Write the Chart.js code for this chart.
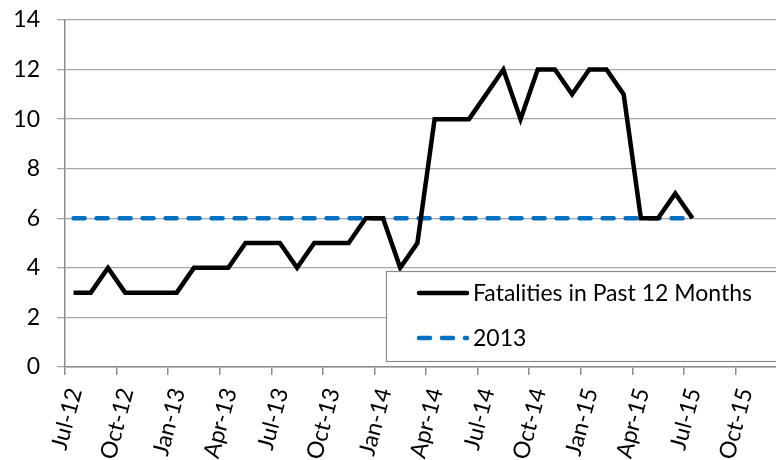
<!DOCTYPE html>
<html>
<head>
<meta charset="utf-8">
<script src="https://cdn.jsdelivr.net/npm/chart.js@4/dist/chart.umd.min.js"></script>
<style>
  html, body { margin: 0; padding: 0; background: #fff; overflow: hidden; }
  #wrap { position: absolute; left: 0; top: 0; width: 800px; height: 460px; }
</style>
</head>
<body>
<div id="wrap"><canvas id="c" width="800" height="460"></canvas></div>
<script>
// Months covered by the data (monthly, Jul-12 .. Jul-15)
const months = ["Jul-12","Aug-12","Sep-12","Oct-12","Nov-12","Dec-12","Jan-13","Feb-13","Mar-13","Apr-13","May-13","Jun-13",
  "Jul-13","Aug-13","Sep-13","Oct-13","Nov-13","Dec-13","Jan-14","Feb-14","Mar-14","Apr-14","May-14","Jun-14",
  "Jul-14","Aug-14","Sep-14","Oct-14","Nov-14","Dec-14","Jan-15","Feb-15","Mar-15","Apr-15","May-15","Jun-15","Jul-15"];
// Fatalities in Past 12 Months
const fatalities = [3,3,4,3,3,3,3,4,4,4,5,5,5,4,5,5,5,6,6,4,5,10,10,10,11,12,10,12,12,11,12,12,11,6,6,7,6];
// 2013 reference level
const level2013 = [6,6,6,6,6,6,6,6,6,6,6,6,6,6,6,6,6,6,6,6,6,6,6,6,6,6,6,6,6,6,6,6,6,6,6,6,6];
// Axis tick labels (every 3 months from Jul-12)
const tickLabels = ["Jul-12","Oct-12","Jan-13","Apr-13","Jul-13","Oct-13","Jan-14","Apr-14","Jul-14","Oct-14","Jan-15","Apr-15","Jul-15","Oct-15"];
const yTicks = [0,2,4,6,8,10,12,14];
const seriesNames = ["Fatalities in Past 12 Months", "2013"];

const FONT = "Lato, 'Liberation Sans', sans-serif";

const toPoints = arr => arr.map((v, i) => ({ x: i + 0.5, y: v }));

const legendPlugin = {
  id: 'boxLegend',
  afterDraw(chart) {
    const ctx = chart.ctx;
    const x0 = 386, y0 = 271, x1 = 800, y1 = 361;
    ctx.save();
    ctx.fillStyle = '#ffffff';
    ctx.fillRect(x0, y0, x1 - x0, y1 - y0);
    ctx.strokeStyle = '#8c8c8c';
    ctx.lineWidth = 1.2;
    ctx.strokeRect(x0 + 0.5, y0 + 0.5, x1 - x0, y1 - y0);
    const rows = [293, 338];
    chart.data.datasets.forEach((ds, i) => {
      const y = rows[i];
      ctx.beginPath();
      ctx.strokeStyle = ds.borderColor;
      ctx.lineWidth = ds.borderWidth;
      ctx.lineCap = 'round';
      ctx.setLineDash(ds.legendDash || []);
      ctx.moveTo(419, y);
      ctx.lineTo(467, y);
      ctx.stroke();
      ctx.setLineDash([]);
      ctx.fillStyle = '#000';
      ctx.font = '23px ' + FONT;
      ctx.textBaseline = 'middle';
      ctx.textAlign = 'left';
      ctx.fillText(ds.label, 473, y + 1);
    });
    ctx.restore();
  }
};

new Chart(document.getElementById('c'), {
  type: 'line',
  data: {
    datasets: [
      {
        label: seriesNames[0],
        data: toPoints(fatalities),
        borderColor: '#000000',
        borderWidth: 4.5,
        pointRadius: 0,
        tension: 0,
        borderJoinStyle: 'miter',
        order: 1
      },
      {
        label: seriesNames[1],
        data: toPoints(level2013),
        borderColor: '#0070C0',
        borderWidth: 4.5,
        borderDash: [11, 12],
        borderCapStyle: 'round',
        legendDash: [11, 12],
        pointRadius: 0,
        tension: 0,
        order: 2
      }
    ]
  },
  options: {
    responsive: false,
    animation: false,
    devicePixelRatio: 1,
    layout: { padding: { top: 20, right: 13, left: 0, bottom: 0 } },
    plugins: { legend: { display: false }, tooltip: { enabled: false }, title: { display: false } },
    scales: {
      x: {
        type: 'linear',
        min: 0,
        max: 42,
        afterBuildTicks(scale) {
          const t = [];
          for (let v = 0; v <= 42; v += 3) t.push({ value: v });
          scale.ticks = t;
        },
        afterFit(scale) {
          scale.height = 93;
          scale.paddingLeft = 0; scale.paddingRight = 0;
          scale.paddingTop = 0; scale.paddingBottom = 0;
        },
        ticks: {
          autoSkip: false,
          minRotation: 75,
          maxRotation: 75,
          padding: 10,
          labelOffset: 10,
          color: '#000',
          font: { family: FONT, size: 23 },
          callback: (v) => tickLabels[Math.round(v / 3)] || ''
        },
        grid: {
          drawOnChartArea: false,
          drawTicks: true,
          tickLength: 8,
          color: '#8c8c8c',
          lineWidth: 1.5
        },
        border: { display: true, color: '#8c8c8c', width: 1.5 }
      },
      y: {
        min: 0,
        max: 14,
        afterBuildTicks(scale) {
          scale.ticks = yTicks.map(v => ({ value: v }));
        },
        afterFit(scale) {
          scale.width = 65;
          scale.paddingTop = 0; scale.paddingBottom = 0;
          scale.paddingLeft = 0; scale.paddingRight = 0;
        },
        ticks: {
          padding: 17,
          color: '#000',
          font: { family: FONT, size: 23 }
        },
        grid: {
          color: '#a6a6a6',
          lineWidth: 1.3,
          tickLength: 8,
          drawTicks: true
        },
        border: { display: true, color: '#8c8c8c', width: 1.5 }
      }
    }
  },
  plugins: [legendPlugin]
});
</script>
</body>
</html>
